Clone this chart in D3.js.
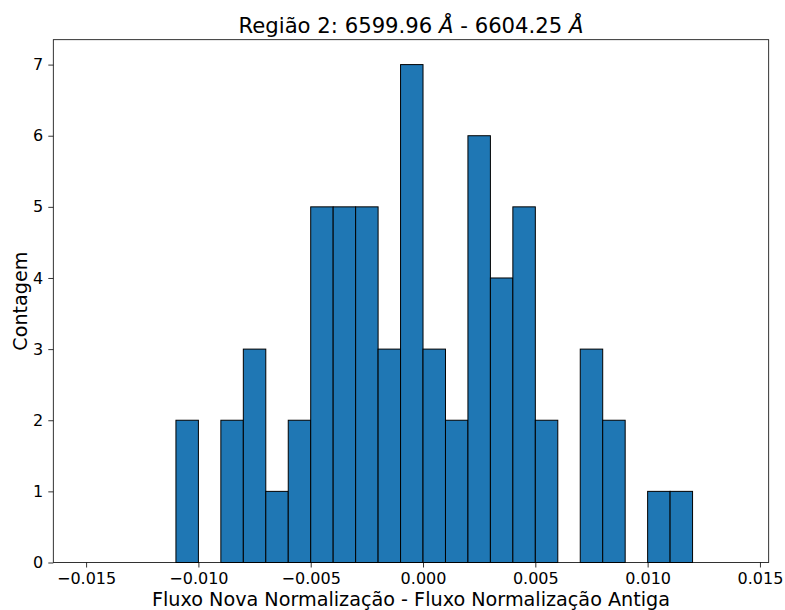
<!DOCTYPE html>
<html>
<head>
<meta charset="utf-8">
<script src="https://cdn.jsdelivr.net/npm/d3@7"></script>
<style>
  body { margin: 0; background: #fff; }
  text { font-family: "DejaVu Sans", sans-serif; fill: #000; }
</style>
</head>
<body>
<svg id="chart" width="785" height="610"></svg>
<script>
// Data
const binEdges = [-0.011, -0.010, -0.009, -0.008, -0.007, -0.006, -0.005, -0.004, -0.003, -0.002, -0.001,
                  0.000, 0.001, 0.002, 0.003, 0.004, 0.005, 0.006, 0.007, 0.008, 0.009, 0.010, 0.011, 0.012];
const counts = [2, 0, 2, 3, 1, 2, 5, 5, 5, 3, 7, 3, 2, 6, 4, 5, 2, 0, 3, 2, 0, 1, 1];
const xTicks = [-0.015, -0.010, -0.005, 0.000, 0.005, 0.010, 0.015];
const yTicks = [0, 1, 2, 3, 4, 5, 6, 7];
const xDomain = [-0.01646, 0.01539];
const yDomain = [0, 7.35];

const svg = d3.select("#chart");
const mLeft = 53.3, mRight = 768.7, mTop = 39.7, mBottom = 562.5;

const x = d3.scaleLinear().domain(xDomain).range([mLeft, mRight]);
const y = d3.scaleLinear().domain(yDomain).range([mBottom, mTop]);

const bins = counts.map((c, i) => ({ x0: binEdges[i], x1: binEdges[i + 1], c }));

svg.append("g").selectAll("rect")
  .data(bins.filter(d => d.c > 0))
  .join("rect")
  .attr("x", d => x(d.x0))
  .attr("width", d => x(d.x1) - x(d.x0))
  .attr("y", d => y(d.c))
  .attr("height", d => y(0) - y(d.c))
  .attr("fill", "#1f77b4")
  .attr("stroke", "#000")
  .attr("stroke-width", 1);

const fmt = d => d === 0 ? "0.000" : d3.format(".3f")(d).replace("-", "\u2212");

const xAxis = svg.append("g")
  .attr("transform", `translate(0,${mBottom})`)
  .call(d3.axisBottom(x).tickValues(xTicks).tickFormat(fmt).tickSizeOuter(0).tickSize(5).tickPadding(5));
const yAxis = svg.append("g")
  .attr("transform", `translate(${mLeft},0)`)
  .call(d3.axisLeft(y).tickValues(yTicks).tickFormat(d3.format("d")).tickSizeOuter(0).tickSize(5).tickPadding(5));

[xAxis, yAxis].forEach(g => {
  g.select(".domain").remove();
  g.selectAll(".tick line").attr("stroke", "#000").attr("stroke-width", 0.8);
  g.selectAll(".tick text").style("font-size", "16px").style("font-family", "DejaVu Sans");
});

// Frame
svg.append("rect")
  .attr("x", mLeft).attr("y", mTop)
  .attr("width", mRight - mLeft).attr("height", mBottom - mTop)
  .attr("fill", "none").attr("stroke", "#000").attr("stroke-width", 0.8);

// Title
const title = svg.append("text")
  .attr("x", (mLeft + mRight) / 2).attr("y", 33)
  .attr("text-anchor", "middle")
  .style("font-size", "21.2px");
title.append("tspan").text("Região 2: 6599.96 ");
title.append("tspan").style("font-style", "italic").text("Å");
title.append("tspan").text(" - 6604.25 ");
title.append("tspan").style("font-style", "italic").text("Å");

// Axis labels
svg.append("text")
  .attr("x", (mLeft + mRight) / 2).attr("y", 605.5)
  .attr("text-anchor", "middle")
  .style("font-size", "19.2px")
  .text("Fluxo Nova Normalização - Fluxo Normalização Antiga");

svg.append("text")
  .attr("transform", `translate(27,${(mTop + mBottom) / 2}) rotate(-90)`)
  .attr("text-anchor", "middle")
  .style("font-size", "19.2px")
  .text("Contagem");
</script>
</body>
</html>
